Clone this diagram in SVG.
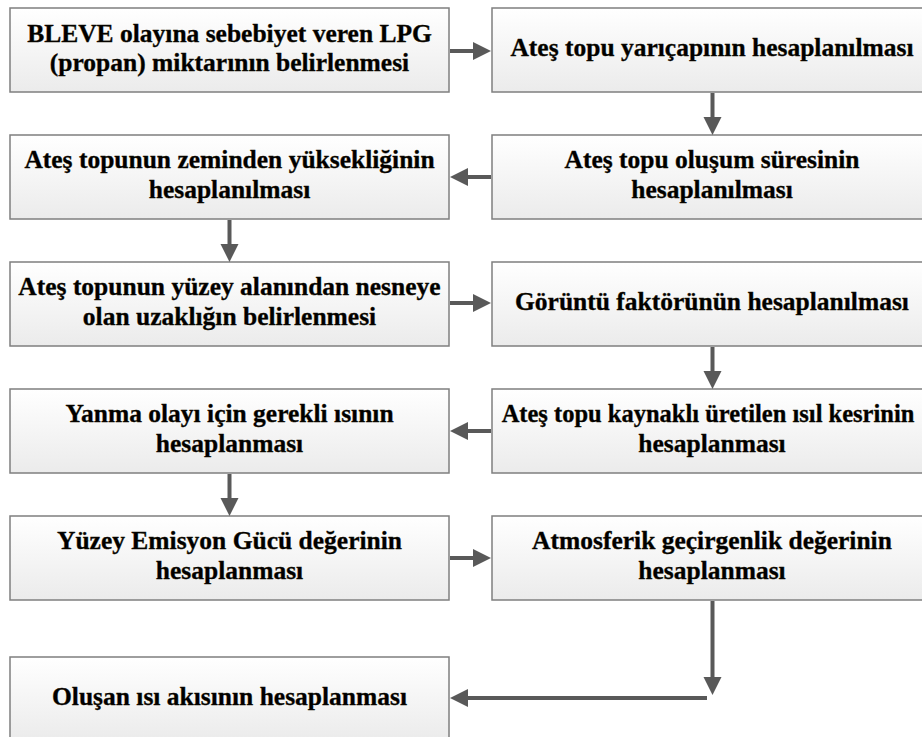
<svg xmlns="http://www.w3.org/2000/svg" width="922" height="737" viewBox="0 0 922 737">
<defs>
<linearGradient id="g" x1="0" y1="0" x2="0" y2="1">
<stop offset="0" stop-color="#ffffff"/>
<stop offset="1" stop-color="#ebebeb"/>
</linearGradient>
<marker id="ah" markerUnits="userSpaceOnUse" markerWidth="19" markerHeight="19" refX="1" refY="9" orient="auto">
<path d="M0,0 L18,9 L0,18 z" fill="#595959"/>
</marker>
<style>
.box{fill:url(#g);stroke:#7f7f7f;stroke-width:1.5}
.t{font-family:"Liberation Serif","Times New Roman",serif;font-weight:bold;font-size:25.5px;fill:#000;stroke:#1a1200;stroke-width:0.35;text-anchor:middle}
.c{fill:none;stroke:#595959;stroke-width:4}
</style>
</defs>
<rect width="922" height="737" fill="#fff"/>
<g id="n1"><rect class="box" x="10" y="8" width="439" height="84"/>
<text class="t" x="229.5" y="42">BLEVE olayına sebebiyet veren LPG</text>
<text class="t" x="229.5" y="71">(propan) miktarının belirlenmesi</text></g>
<g id="n2"><rect class="box" x="492" y="8" width="440" height="84"/>
<text class="t" x="712" y="56">Ateş topu yarıçapının hesaplanılması</text></g>
<g id="n3"><rect class="box" x="492" y="135" width="440" height="84"/>
<text class="t" x="712" y="168">Ateş topu oluşum süresinin</text>
<text class="t" x="712" y="198">hesaplanılması</text></g>
<g id="n4"><rect class="box" x="10" y="135" width="439" height="84"/>
<text class="t" x="229.5" y="168">Ateş topunun zeminden yüksekliğinin</text>
<text class="t" x="229.5" y="198">hesaplanılması</text></g>
<g id="n5"><rect class="box" x="10" y="262" width="439" height="84"/>
<text class="t" x="229.5" y="295">Ateş topunun yüzey alanından nesneye</text>
<text class="t" x="229.5" y="325">olan uzaklığın belirlenmesi</text></g>
<g id="n6"><rect class="box" x="492" y="262" width="440" height="84"/>
<text class="t" x="712" y="310">Görüntü faktörünün hesaplanılması</text></g>
<g id="n7"><rect class="box" x="492" y="389" width="440" height="84"/>
<text class="t" x="708" y="422" style="font-size:24.5px">Ateş topu kaynaklı üretilen ısıl kesrinin</text>
<text class="t" x="712" y="452">hesaplanması</text></g>
<g id="n8"><rect class="box" x="10" y="389" width="439" height="84"/>
<text class="t" x="229.5" y="422">Yanma olayı için gerekli ısının</text>
<text class="t" x="229.5" y="452">hesaplanması</text></g>
<g id="n9"><rect class="box" x="10" y="516" width="439" height="84"/>
<text class="t" x="229.5" y="549">Yüzey Emisyon Gücü değerinin</text>
<text class="t" x="229.5" y="579">hesaplanması</text></g>
<g id="n10"><rect class="box" x="492" y="516" width="440" height="84"/>
<text class="t" x="712" y="549">Atmosferik geçirgenlik değerinin</text>
<text class="t" x="712" y="579">hesaplanması</text></g>
<g id="n11"><rect class="box" x="10" y="657" width="439" height="84"/>
<text class="t" x="229.5" y="705">Oluşan ısı akısının hesaplanması</text></g>
<g id="connectors">
<path class="c" d="M450,51 L474,51" marker-end="url(#ah)"/>
<path class="c" d="M712.5,93 L712.5,118" marker-end="url(#ah)"/>
<path class="c" d="M491,177 L467,177" marker-end="url(#ah)"/>
<path class="c" d="M229.5,220 L229.5,245" marker-end="url(#ah)"/>
<path class="c" d="M450,303 L474,303" marker-end="url(#ah)"/>
<path class="c" d="M712.5,347 L712.5,372" marker-end="url(#ah)"/>
<path class="c" d="M491,431 L467,431" marker-end="url(#ah)"/>
<path class="c" d="M229.5,474 L229.5,499" marker-end="url(#ah)"/>
<path class="c" d="M450,558 L474,558" marker-end="url(#ah)"/>
<path class="c" d="M712.5,601 L712.5,678" marker-end="url(#ah)"/>
<path class="c" d="M707,698 L467,698" marker-end="url(#ah)"/>
</g>
</svg>
